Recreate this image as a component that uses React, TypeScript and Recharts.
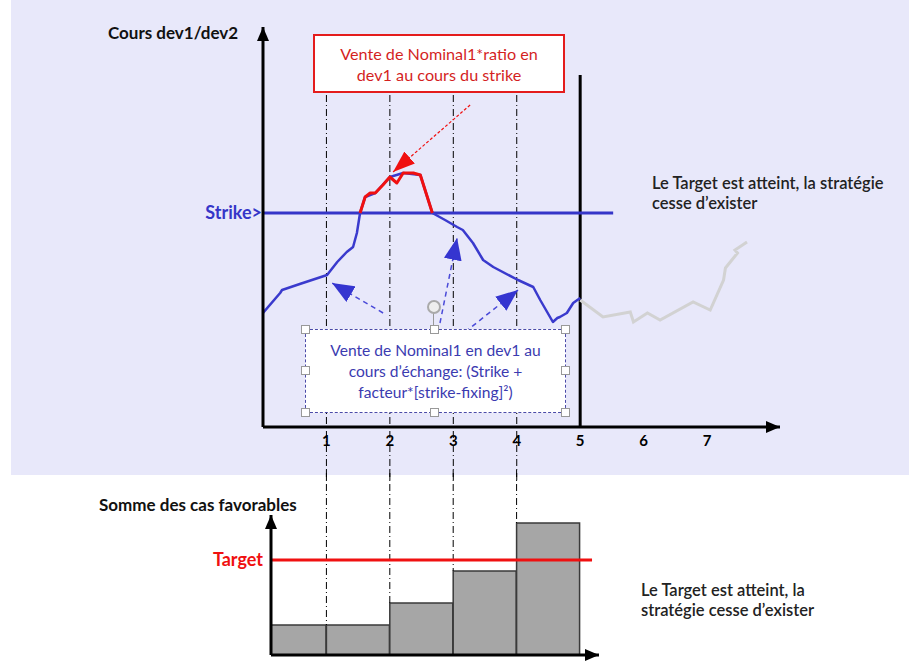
import React from 'react';
import { ComposedChart, Line, Bar, XAxis, YAxis, ReferenceLine } from 'recharts';

// cours dev1/dev2 (x = fixing number, y = price units)
const blueX = [0, 0.27, 0.3, 0.58, 1.01, 1.17, 1.32, 1.42, 1.48, 1.53, 1.61, 1.77, 2.0, 2.21, 2.48, 2.67, 2.87, 3.06, 3.15, 3.31, 3.47, 3.63, 4.02, 4.26, 4.37, 4.57, 4.64, 4.68, 4.79, 4.89, 5.0];
const blueY = [114, 134, 137, 143, 152, 165, 175, 180, 194, 214, 230, 234, 250, 254, 252, 214, 207, 200, 197, 184, 167, 160, 147, 140, 127, 105, 109, 110, 114, 124, 129];
const redX = [1.53, 1.61, 1.69, 1.77, 1.89, 2.0, 2.11, 2.21, 2.37, 2.48, 2.59, 2.67];
const redY = [214, 230, 234, 234, 242, 250, 244, 254, 254, 252, 230, 214];
const grayX = [5.0, 5.36, 5.79, 5.84, 6.06, 6.26, 6.78, 7.05, 7.26, 7.29, 7.48, 7.44, 7.63];
const grayY = [127, 110, 115, 105, 114, 107, 125, 117, 147, 159, 174, 177, 185];
const xTicks = [1, 2, 3, 4, 5, 6, 7];
const fixings = [1, 2, 3, 4];
const strike = 214;

// somme des cas favorables
const barX = [0.5, 1.5, 2.5, 3.5, 4.5];
const barValues = [30, 30, 52, 84, 132];
const target = 95;

const blueData = blueX.map((x, i) => ({ x, y: blueY[i] }));
const redData = redX.map((x, i) => ({ x, y: redY[i] }));
const grayData = grayX.map((x, i) => ({ x, y: grayY[i] }));
const barData = barX.map((x, i) => ({ x, v: barValues[i] }));

const FONT = 'Lato, "Open Sans", sans-serif';
const dashDot = '7 3 1 3';

const handles = [
  [305, 329], [434, 329], [565, 329],
  [305, 370], [565, 370],
  [305, 412], [434, 412], [565, 412],
];

export default function App() {
  return (
    <div style={{ position: 'absolute', left: 0, top: 0, width: 909, height: 661, background: '#fff', fontFamily: FONT, overflow: 'hidden' }}>
      <svg width={0} height={0} style={{ position: 'absolute' }}>
        <defs>
          <marker id="arrBlack" markerUnits="userSpaceOnUse" markerWidth={14} markerHeight={12} refX={14} refY={6} orient="auto-start-reverse">
            <path d="M0,0 L14,6 L0,12 z" fill="#000" />
          </marker>
          <marker id="arrBlue" markerUnits="userSpaceOnUse" markerWidth={22} markerHeight={18} refX={22} refY={9} orient="auto">
            <path d="M0,0 L22,9 L0,18 z" fill="#3535d0" />
          </marker>
          <marker id="arrRed" markerUnits="userSpaceOnUse" markerWidth={22} markerHeight={16} refX={22} refY={8} orient="auto">
            <path d="M0,0 L22,8 L0,16 z" fill="#f01010" />
          </marker>
        </defs>
      </svg>

      <div style={{ position: 'absolute', left: 11, top: 0, width: 898, height: 475, background: '#e8e8fa' }} />

      {/* graphique du haut */}
      <div style={{ position: 'absolute', left: 0, top: 0 }}>
        <ComposedChart width={909} height={480} margin={{ top: 27, right: 129, bottom: 23, left: 262 }} style={{ fontFamily: FONT }}>
          <XAxis
            dataKey="x"
            type="number"
            domain={[0, 8.15]}
            ticks={xTicks}
            height={30}
            tickLine={false}
            axisLine={{ stroke: '#000', strokeWidth: 3, markerEnd: 'url(#arrBlack)' }}
            tick={{ fill: '#000', fontSize: 15, fontWeight: 700 }}
            allowDataOverflow
          />
          <YAxis
            type="number"
            domain={[0, 400]}
            width={1}
            tick={false}
            tickLine={false}
            axisLine={{ stroke: '#000', strokeWidth: 3, markerStart: 'url(#arrBlack)' }}
            allowDataOverflow
          />
          {fixings.map((f) => (
            <ReferenceLine key={f} segment={[{ x: f, y: 332 }, { x: f, y: -53 }]} stroke="#000" strokeWidth={1} strokeDasharray={dashDot} ifOverflow="visible" />
          ))}
          <ReferenceLine segment={[{ x: 5, y: 0 }, { x: 5, y: 352 }]} stroke="#000" strokeWidth={3} ifOverflow="visible" />
          <ReferenceLine
            segment={[{ x: 0, y: strike }, { x: 5.52, y: strike }]}
            stroke="#3535c8"
            strokeWidth={3}
            ifOverflow="visible"
            label={{ value: 'Strike>', position: 'left', offset: 1, fill: '#3535c8', fontSize: 18, fontWeight: 700 }}
          />
          <Line data={grayData} dataKey="y" type="linear" stroke="#d2d2d2" strokeWidth={3} dot={false} isAnimationActive={false} />
          <Line data={blueData} dataKey="y" type="linear" stroke="#3a3acd" strokeWidth={2.5} dot={false} strokeLinejoin="round" isAnimationActive={false} />
          <Line data={redData} dataKey="y" type="linear" stroke="#f01010" strokeWidth={3} dot={false} strokeLinejoin="round" isAnimationActive={false} />
          <ReferenceLine segment={[{ x: 3.265, y: 322 }, { x: 2.05, y: 255 }]} stroke="#f01010" strokeWidth={1.2} strokeDasharray="3 2" markerEnd="url(#arrRed)" ifOverflow="visible" />
          <ReferenceLine segment={[{ x: 1.893, y: 114 }, { x: 1.088, y: 144 }]} stroke="#4a4ad8" strokeWidth={1.5} strokeDasharray="5 4" markerEnd="url(#arrBlue)" ifOverflow="visible" />
          <ReferenceLine segment={[{ x: 2.79, y: 104 }, { x: 3.06, y: 189 }]} stroke="#4a4ad8" strokeWidth={1.5} strokeDasharray="5 4" markerEnd="url(#arrBlue)" ifOverflow="visible" />
          <ReferenceLine segment={[{ x: 3.186, y: 95 }, { x: 4.02, y: 137 }]} stroke="#4a4ad8" strokeWidth={1.5} strokeDasharray="5 4" markerEnd="url(#arrBlue)" ifOverflow="visible" />
        </ComposedChart>
      </div>

      {/* graphique du bas */}
      <div style={{ position: 'absolute', left: 0, top: 470 }}>
        <ComposedChart width={909} height={191} data={barData} margin={{ top: 45, right: 310, bottom: 5, left: 270 }} barCategoryGap={0} style={{ fontFamily: FONT }}>
          <XAxis
            dataKey="x"
            type="number"
            domain={[0.126, 5.3]}
            height={1}
            tick={false}
            tickLine={false}
            axisLine={{ stroke: '#000', strokeWidth: 3, markerEnd: 'url(#arrBlack)' }}
            allowDataOverflow
          />
          <YAxis
            type="number"
            domain={[0, 140]}
            width={1}
            tick={false}
            tickLine={false}
            axisLine={{ stroke: '#000', strokeWidth: 3, markerStart: 'url(#arrBlack)' }}
            allowDataOverflow
          />
          {fixings.map((f) => (
            <ReferenceLine key={f} segment={[{ x: f, y: 185 }, { x: f, y: Math.max(barValues[f - 1], barValues[f]) }]} stroke="#000" strokeWidth={1} strokeDasharray={dashDot} ifOverflow="visible" />
          ))}
          <Bar dataKey="v" fill="#a6a6a6" stroke="#3a3a3a" strokeWidth={1.5} isAnimationActive={false} />
          <ReferenceLine
            segment={[{ x: 0.126, y: target }, { x: 5.19, y: target }]}
            stroke="#f01010"
            strokeWidth={3}
            ifOverflow="visible"
            label={{ value: 'Target', position: 'left', offset: 8, fill: '#f01010', fontSize: 18, fontWeight: 700 }}
          />
        </ComposedChart>
      </div>

      {/* textes */}
      <div style={{ position: 'absolute', left: 108, top: 22, fontSize: 17, fontWeight: 700, color: '#111', whiteSpace: 'nowrap' }}>Cours dev1/dev2</div>
      <div style={{ position: 'absolute', left: 99, top: 494, fontSize: 17, fontWeight: 700, color: '#111', whiteSpace: 'nowrap' }}>Somme des cas favorables</div>

      <div style={{ position: 'absolute', left: 313, top: 34, width: 248, height: 55, border: '2px solid #e41c1c', background: '#fff', color: '#d41f1f', fontSize: 16.2, lineHeight: '21px', display: 'flex', alignItems: 'center', justifyContent: 'center', textAlign: 'center' }}>
        <div>Vente de Nominal1*ratio en<br />dev1 au cours du strike</div>
      </div>

      <div style={{ position: 'absolute', left: 305, top: 329, width: 259, height: 82, border: '1px dashed #4a4aa8', background: '#fff', color: '#3b3bb0', fontSize: 15.6, lineHeight: '21px', display: 'flex', alignItems: 'center', justifyContent: 'center', textAlign: 'center' }}>
        <div>Vente de Nominal1 en dev1 au<br />cours d’échange: (Strike +<br />facteur*[strike-fixing]²)</div>
      </div>
      <div style={{ position: 'absolute', left: 433, top: 313, width: 1, height: 16, background: '#999' }} />
      <div style={{ position: 'absolute', left: 427, top: 300, width: 10, height: 10, borderRadius: 7, border: '2px solid #aaa', background: '#eee' }} />
      {handles.map(([hx, hy], i) => (
        <div key={i} style={{ position: 'absolute', left: hx - 4, top: hy - 4, width: 7, height: 7, border: '1px solid #999', background: '#fff' }} />
      ))}

      <div style={{ position: 'absolute', left: 652, top: 173, fontSize: 16.5, fontWeight: 600, lineHeight: '20px', color: '#222', whiteSpace: 'nowrap' }}>
        Le Target est atteint, la stratégie<br />cesse d’exister
      </div>
      <div style={{ position: 'absolute', left: 641, top: 580, fontSize: 16.5, fontWeight: 600, lineHeight: '20px', color: '#222', whiteSpace: 'nowrap' }}>
        Le Target est atteint, la<br />stratégie cesse d’exister
      </div>
    </div>
  );
}
